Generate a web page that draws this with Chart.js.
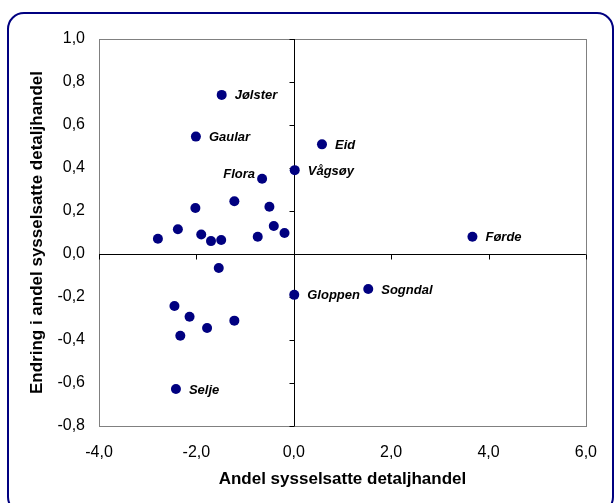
<!DOCTYPE html>
<html>
<head>
<meta charset="utf-8">
<script src="https://cdn.jsdelivr.net/npm/chart.js@4/dist/chart.umd.min.js"></script>
<style>
html,body{margin:0;padding:0;background:#fff;}
canvas{display:block;}
</style>
</head>
<body>
<canvas id="c" width="614" height="503"></canvas>
<script>
const names = ["Jølster","Gaular","Flora","Vågsøy","Eid","Førde","Sogndal","Gloppen","Selje",
  "","","","","","","","","","","","","","","","",""];
const xValues = [-1.48,-2.01,-0.65,0.02,0.58,3.67,1.53,0.01,-2.42,
  -2.02,-1.22,-0.50,-0.41,-0.19,-0.74,-2.79,-2.38,-1.90,-1.70,-1.49,-1.54,-2.45,-2.14,-1.78,-2.33,-1.22];
const yValues = [0.74,0.546,0.35,0.39,0.51,0.08,-0.163,-0.19,-0.628,
  0.214,0.245,0.22,0.13,0.098,0.08,0.071,0.115,0.091,0.06,0.065,-0.065,-0.242,-0.292,-0.344,-0.38,-0.31];
const leftLabels = ["Flora"];
const xTitle = "Andel sysselsatte detaljhandel";
const yTitle = "Endring i andel sysselsatte detaljhandel";

const points = xValues.map((x,i)=>({x:x,y:yValues[i]}));
const fmt = v => { let s = Number(v).toFixed(1); if (s === "-0.0") s = "0.0"; return s.replace('.',','); };
const FONT = "'Liberation Sans', Arial, sans-serif";

const decor = {
  id:'decor',
  beforeDraw(chart){
    const ctx = chart.ctx;
    ctx.save();
    ctx.fillStyle = '#fff';
    ctx.fillRect(0,0,chart.width,chart.height);
    ctx.restore();
  },
  beforeDatasetsDraw(chart){
    const ctx = chart.ctx, a = chart.chartArea;
    const xs = chart.scales.x, ys = chart.scales.y;
    ctx.save();
    ctx.strokeStyle = '#808080';
    ctx.lineWidth = 1;
    ctx.strokeRect(Math.round(a.left)+0.5, Math.round(a.top)+0.5, Math.round(a.right-a.left), Math.round(a.bottom-a.top));
    const x0 = Math.round(xs.getPixelForValue(0))+0.5;
    const y0 = Math.round(ys.getPixelForValue(0))+0.5;
    ctx.strokeStyle = '#000';
    ctx.beginPath();
    ctx.moveTo(x0, a.top); ctx.lineTo(x0, a.bottom);
    ctx.moveTo(a.left, y0); ctx.lineTo(a.right, y0);
    ys.ticks.forEach(t=>{
      const py = Math.round(ys.getPixelForValue(t.value))+0.5;
      ctx.moveTo(x0-5, py); ctx.lineTo(x0, py);
    });
    xs.ticks.forEach(t=>{
      const px = Math.round(xs.getPixelForValue(t.value))+0.5;
      ctx.moveTo(px, y0); ctx.lineTo(px, y0+5);
    });
    ctx.stroke();
    ctx.restore();
  },
  afterDatasetsDraw(chart){
    const ctx = chart.ctx;
    const meta = chart.getDatasetMeta(0);
    ctx.save();
    ctx.font = "italic bold 13px " + FONT;
    ctx.fillStyle = '#000';
    ctx.textBaseline = 'middle';
    meta.data.forEach((el,i)=>{
      const n = names[i];
      if (!n) return;
      if (leftLabels.includes(n)) {
        ctx.textAlign = 'right';
        ctx.fillText(n, el.x - 7, el.y - 4);
      } else {
        ctx.textAlign = 'left';
        ctx.fillText(n, el.x + 13, el.y + 1);
      }
    });
    ctx.restore();
  },
  afterDraw(chart){
    const ctx = chart.ctx;
    ctx.save();
    ctx.strokeStyle = '#000080';
    ctx.lineWidth = 2;
    const x=8, y=13, w=605, h=500, r=16;
    ctx.beginPath();
    ctx.moveTo(x+r,y);
    ctx.lineTo(x+w-r,y); ctx.arcTo(x+w,y,x+w,y+r,r);
    ctx.lineTo(x+w,y+h-r); ctx.arcTo(x+w,y+h,x+w-r,y+h,r);
    ctx.lineTo(x+r,y+h); ctx.arcTo(x,y+h,x,y+h-r,r);
    ctx.lineTo(x,y+r); ctx.arcTo(x,y,x+r,y,r);
    ctx.closePath();
    ctx.stroke();
    ctx.restore();
  }
};

new Chart(document.getElementById('c'), {
  type:'scatter',
  data:{ datasets:[{ data: points, backgroundColor:'#000080', borderColor:'#000080', borderWidth:0, pointRadius:5, pointHoverRadius:5 }]},
  options:{
    responsive:false, animation:false,
    layout:{ padding:{ left:23, top:39, right:27, bottom:9 } },
    plugins:{ legend:{display:false}, tooltip:{enabled:false} },
    scales:{
      x:{
        type:'linear', min:-4, max:6,
        grid:{ display:false, drawTicks:false },
        border:{ display:false },
        ticks:{ stepSize:2, padding:17, color:'#000', font:{ family:FONT, size:16 }, callback:v=>fmt(v), maxRotation:0 },
        title:{ display:true, text:xTitle, color:'#000', font:{ family:FONT, size:17, weight:'bold' }, padding:{top:4,bottom:4} },
        afterFit(s){ s.height = 68; }
      },
      y:{
        type:'linear', min:-0.8, max:1.0,
        grid:{ display:false, drawTicks:false },
        border:{ display:false },
        ticks:{ stepSize:0.2, padding:14, color:'#000', font:{ family:FONT, size:16 }, callback:v=>fmt(v) },
        title:{ display:true, text:yTitle, color:'#000', font:{ family:FONT, size:17, weight:'bold' }, padding:{top:4,bottom:4} },
        afterFit(s){ s.width = 76; }
      }
    }
  },
  plugins:[decor]
});
</script>
</body>
</html>
